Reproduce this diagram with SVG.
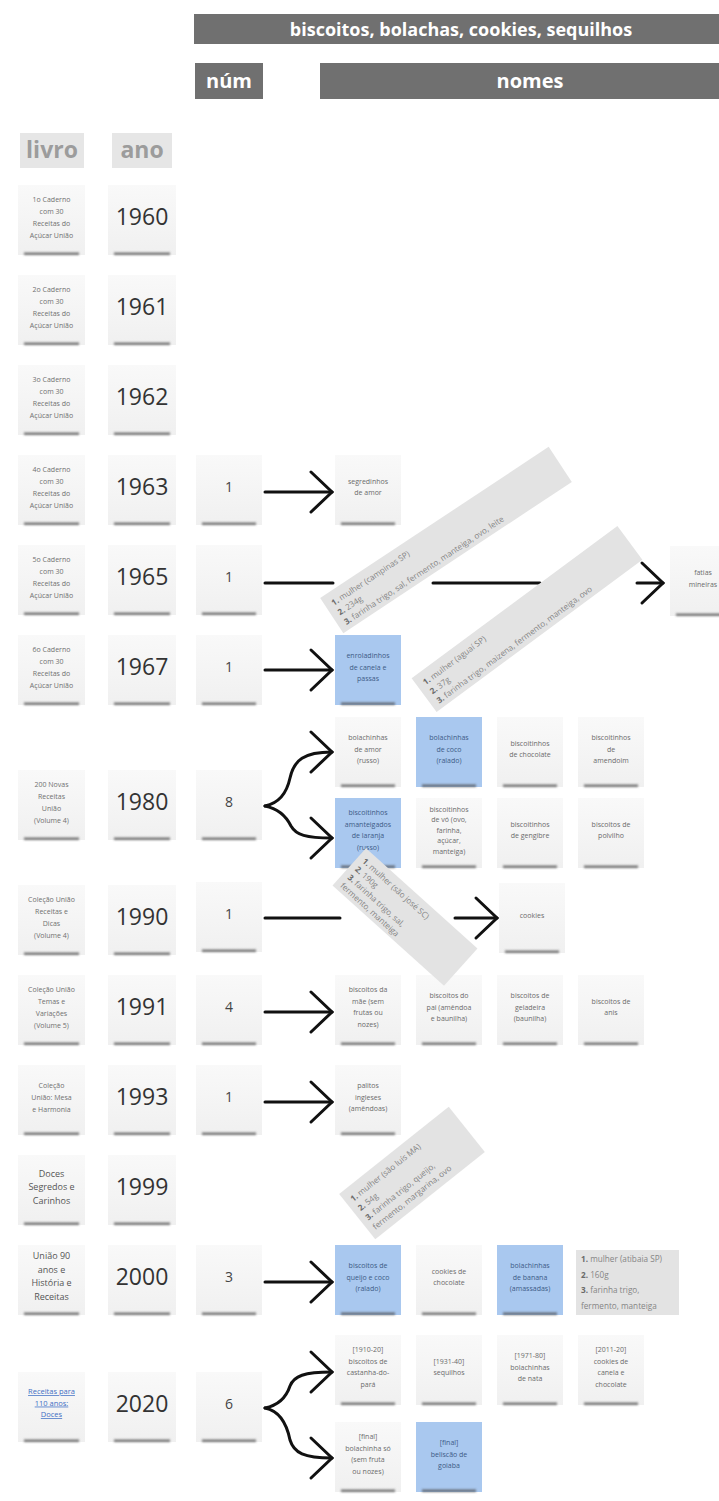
<svg xmlns="http://www.w3.org/2000/svg" width="719" height="1501" viewBox="0 0 719 1501">
<defs>
<linearGradient id="pg" x1="0" y1="0" x2="0" y2="1"><stop offset="0" stop-color="#f9f9f9"/><stop offset="1" stop-color="#f0f0f0"/></linearGradient>
<filter id="bl" x="-20%" y="-300%" width="140%" height="700%"><feGaussianBlur stdDeviation="1.1"/></filter>
<marker id="ah" viewBox="-25 -23 28 46" refX="0" refY="0" markerWidth="28" markerHeight="46" markerUnits="userSpaceOnUse" orient="auto"><path d="M-21,-20 L0,0 L-21,20" fill="none" stroke="#111" stroke-width="3" stroke-linecap="round"/></marker>
<style>
.hd{fill:#707070}
.hdt{font-family:"Open Sans","DejaVu Sans",sans-serif;font-weight:bold;fill:#fff;text-anchor:middle}
.cap{fill:#e6e6e6}
.capt{font-family:"Open Sans","DejaVu Sans",sans-serif;font-weight:bold;font-size:23px;fill:#9c9c9c;text-anchor:middle}
.n{fill:url(#pg)}
.b{fill:#a9c8ef}
.sh{fill:#4a4a4a;filter:url(#bl);opacity:.75}
.lv{font-family:"Open Sans","DejaVu Sans",sans-serif;font-size:7px;fill:#707070;text-anchor:middle}
.lvb{font-family:"Open Sans","DejaVu Sans",sans-serif;font-size:9px;fill:#555;text-anchor:middle}
.lk{font-family:"Open Sans","DejaVu Sans",sans-serif;font-size:7.5px;fill:#3f6fc4;text-anchor:middle;text-decoration:underline}
.yr{font-family:"Open Sans","DejaVu Sans",sans-serif;font-size:23px;fill:#333;text-anchor:middle}
.nu{font-family:"Open Sans","DejaVu Sans",sans-serif;font-size:14px;fill:#444;text-anchor:middle}
.t{font-family:"Open Sans","DejaVu Sans",sans-serif;font-size:7px;fill:#6b6b6b;text-anchor:middle}
.tb{font-family:"Open Sans","DejaVu Sans",sans-serif;font-size:7px;fill:#3d5b86;text-anchor:middle}
.g{fill:#e3e3e3}
.gt{font-family:"Open Sans","DejaVu Sans",sans-serif;font-size:8.2px;fill:#858585}
.gb{font-weight:bold;fill:#6a6a6a}
.c{fill:none;stroke:#111;stroke-width:3;stroke-linecap:round}
</style>
</defs>
<rect width="719" height="1501" fill="#fff"/>

<g id="header-title"><rect class="hd" x="194" y="14" width="540" height="30"/><text class="hdt" x="461" y="35.5" font-size="18">biscoitos, bolachas, cookies, sequilhos</text></g>
<g id="header-num"><rect class="hd" x="195" y="63" width="68" height="36"/><text class="hdt" x="229" y="88" font-size="20">núm</text></g>
<g id="header-nomes"><rect class="hd" x="320" y="63" width="420" height="36"/><text class="hdt" x="530" y="88" font-size="20">nomes</text></g>
<g id="header-livro"><rect class="cap" x="20" y="133" width="64" height="35"/><text class="capt" x="52" y="158">livro</text></g>
<g id="header-ano"><rect class="cap" x="112" y="133" width="60" height="35"/><text class="capt" x="142" y="158">ano</text></g>

<!-- livro notes -->
<g id="livro-1960"><rect class="n" x="18" y="185" width="67" height="70"/><rect class="sh" x="24" y="252.5" width="55" height="2.5"/><text class="lv"><tspan x="51.5" y="201.5">1o Caderno</tspan><tspan x="51.5" y="213.5">com 30</tspan><tspan x="51.5" y="225.5">Receitas do</tspan><tspan x="51.5" y="237.5">Açúcar União</tspan></text></g>
<g id="livro-1961"><rect class="n" x="18" y="275" width="67" height="70"/><rect class="sh" x="24" y="342.5" width="55" height="2.5"/><text class="lv"><tspan x="51.5" y="291.5">2o Caderno</tspan><tspan x="51.5" y="303.5">com 30</tspan><tspan x="51.5" y="315.5">Receitas do</tspan><tspan x="51.5" y="327.5">Açúcar União</tspan></text></g>
<g id="livro-1962"><rect class="n" x="18" y="365" width="67" height="70"/><rect class="sh" x="24" y="432.5" width="55" height="2.5"/><text class="lv"><tspan x="51.5" y="381.5">3o Caderno</tspan><tspan x="51.5" y="393.5">com 30</tspan><tspan x="51.5" y="405.5">Receitas do</tspan><tspan x="51.5" y="417.5">Açúcar União</tspan></text></g>
<g id="livro-1963"><rect class="n" x="18" y="455" width="67" height="70"/><rect class="sh" x="24" y="522.5" width="55" height="2.5"/><text class="lv"><tspan x="51.5" y="471.5">4o Caderno</tspan><tspan x="51.5" y="483.5">com 30</tspan><tspan x="51.5" y="495.5">Receitas do</tspan><tspan x="51.5" y="507.5">Açúcar União</tspan></text></g>
<g id="livro-1965"><rect class="n" x="18" y="545" width="67" height="70"/><rect class="sh" x="24" y="612.5" width="55" height="2.5"/><text class="lv"><tspan x="51.5" y="561.5">5o Caderno</tspan><tspan x="51.5" y="573.5">com 30</tspan><tspan x="51.5" y="585.5">Receitas do</tspan><tspan x="51.5" y="597.5">Açúcar União</tspan></text></g>
<g id="livro-1967"><rect class="n" x="18" y="635" width="67" height="70"/><rect class="sh" x="24" y="702.5" width="55" height="2.5"/><text class="lv"><tspan x="51.5" y="651.5">6o Caderno</tspan><tspan x="51.5" y="663.5">com 30</tspan><tspan x="51.5" y="675.5">Receitas do</tspan><tspan x="51.5" y="687.5">Açúcar União</tspan></text></g>
<g id="livro-1980"><rect class="n" x="18" y="770" width="67" height="70"/><rect class="sh" x="24" y="837.5" width="55" height="2.5"/><text class="lv"><tspan x="51.5" y="786.5">200 Novas</tspan><tspan x="51.5" y="798.5">Receitas</tspan><tspan x="51.5" y="810.5">União</tspan><tspan x="51.5" y="822.5">(Volume 4)</tspan></text></g>
<g id="livro-1990"><rect class="n" x="18" y="885" width="67" height="70"/><rect class="sh" x="24" y="952.5" width="55" height="2.5"/><text class="lv"><tspan x="51.5" y="901.5">Coleção União</tspan><tspan x="51.5" y="913.5">Receitas e</tspan><tspan x="51.5" y="925.5">Dicas</tspan><tspan x="51.5" y="937.5">(Volume 4)</tspan></text></g>
<g id="livro-1991"><rect class="n" x="18" y="975" width="67" height="70"/><rect class="sh" x="24" y="1042.5" width="55" height="2.5"/><text class="lv"><tspan x="51.5" y="991.5">Coleção União</tspan><tspan x="51.5" y="1003.5">Temas e</tspan><tspan x="51.5" y="1015.5">Variações</tspan><tspan x="51.5" y="1027.5">(Volume 5)</tspan></text></g>
<g id="livro-1993"><rect class="n" x="18" y="1065" width="67" height="70"/><rect class="sh" x="24" y="1132.5" width="55" height="2.5"/><text class="lv"><tspan x="51.5" y="1087.5">Coleção</tspan><tspan x="51.5" y="1099.5">União: Mesa</tspan><tspan x="51.5" y="1111.5">e Harmonia</tspan></text></g>
<g id="livro-1999"><rect class="n" x="18" y="1155" width="67" height="70"/><rect class="sh" x="24" y="1222.5" width="55" height="2.5"/><text class="lvb"><tspan x="51.5" y="1176.7">Doces</tspan><tspan x="51.5" y="1190.2">Segredos e</tspan><tspan x="51.5" y="1203.7">Carinhos</tspan></text></g>
<g id="livro-2000"><rect class="n" x="18" y="1245" width="67" height="70"/><rect class="sh" x="24" y="1312.5" width="55" height="2.5"/><text class="lvb"><tspan x="51.5" y="1259">União 90</tspan><tspan x="51.5" y="1272.5">anos e</tspan><tspan x="51.5" y="1286">História e</tspan><tspan x="51.5" y="1299.5">Receitas</tspan></text></g>
<g id="livro-2020"><rect class="n" x="18" y="1372" width="67" height="70"/><rect class="sh" x="24" y="1439.5" width="55" height="2.5"/><text class="lk"><tspan x="51.5" y="1394.1">Receitas para</tspan><tspan x="51.5" y="1405.6">110 anos:</tspan><tspan x="51.5" y="1417.1">Doces</tspan></text></g>

<!-- year notes -->
<g id="ano-1960"><rect class="n" x="108" y="185" width="68" height="70"/><rect class="sh" x="114" y="252.5" width="56" height="2.5"/><text class="yr" x="142" y="225">1960</text></g>
<g id="ano-1961"><rect class="n" x="108" y="275" width="68" height="70"/><rect class="sh" x="114" y="342.5" width="56" height="2.5"/><text class="yr" x="142" y="315">1961</text></g>
<g id="ano-1962"><rect class="n" x="108" y="365" width="68" height="70"/><rect class="sh" x="114" y="432.5" width="56" height="2.5"/><text class="yr" x="142" y="405">1962</text></g>
<g id="ano-1963"><rect class="n" x="108" y="455" width="68" height="70"/><rect class="sh" x="114" y="522.5" width="56" height="2.5"/><text class="yr" x="142" y="495">1963</text></g>
<g id="ano-1965"><rect class="n" x="108" y="545" width="68" height="70"/><rect class="sh" x="114" y="612.5" width="56" height="2.5"/><text class="yr" x="142" y="585">1965</text></g>
<g id="ano-1967"><rect class="n" x="108" y="635" width="68" height="70"/><rect class="sh" x="114" y="702.5" width="56" height="2.5"/><text class="yr" x="142" y="675">1967</text></g>
<g id="ano-1980"><rect class="n" x="108" y="770" width="68" height="70"/><rect class="sh" x="114" y="837.5" width="56" height="2.5"/><text class="yr" x="142" y="810">1980</text></g>
<g id="ano-1990"><rect class="n" x="108" y="885" width="68" height="70"/><rect class="sh" x="114" y="952.5" width="56" height="2.5"/><text class="yr" x="142" y="925">1990</text></g>
<g id="ano-1991"><rect class="n" x="108" y="975" width="68" height="70"/><rect class="sh" x="114" y="1042.5" width="56" height="2.5"/><text class="yr" x="142" y="1015">1991</text></g>
<g id="ano-1993"><rect class="n" x="108" y="1065" width="68" height="70"/><rect class="sh" x="114" y="1132.5" width="56" height="2.5"/><text class="yr" x="142" y="1105">1993</text></g>
<g id="ano-1999"><rect class="n" x="108" y="1155" width="68" height="70"/><rect class="sh" x="114" y="1222.5" width="56" height="2.5"/><text class="yr" x="142" y="1195">1999</text></g>
<g id="ano-2000"><rect class="n" x="108" y="1245" width="68" height="70"/><rect class="sh" x="114" y="1312.5" width="56" height="2.5"/><text class="yr" x="142" y="1285">2000</text></g>
<g id="ano-2020"><rect class="n" x="108" y="1372" width="68" height="70"/><rect class="sh" x="114" y="1439.5" width="56" height="2.5"/><text class="yr" x="142" y="1412">2020</text></g>

<!-- num notes -->
<g id="num-1963"><rect class="n" x="196" y="455" width="66" height="70"/><rect class="sh" x="202" y="522.5" width="54" height="2.5"/><text class="nu" x="229" y="492">1</text></g>
<g id="num-1965"><rect class="n" x="196" y="545" width="66" height="70"/><rect class="sh" x="202" y="612.5" width="54" height="2.5"/><text class="nu" x="229" y="582">1</text></g>
<g id="num-1967"><rect class="n" x="196" y="635" width="66" height="70"/><rect class="sh" x="202" y="702.5" width="54" height="2.5"/><text class="nu" x="229" y="672">1</text></g>
<g id="num-1980"><rect class="n" x="196" y="770" width="66" height="70"/><rect class="sh" x="202" y="837.5" width="54" height="2.5"/><text class="nu" x="229" y="807">8</text></g>
<g id="num-1990"><rect class="n" x="196" y="882" width="66" height="70"/><rect class="sh" x="202" y="949.5" width="54" height="2.5"/><text class="nu" x="229" y="919">1</text></g>
<g id="num-1991"><rect class="n" x="196" y="975" width="66" height="70"/><rect class="sh" x="202" y="1042.5" width="54" height="2.5"/><text class="nu" x="229" y="1012">4</text></g>
<g id="num-1993"><rect class="n" x="196" y="1065" width="66" height="70"/><rect class="sh" x="202" y="1132.5" width="54" height="2.5"/><text class="nu" x="229" y="1102">1</text></g>
<g id="num-2000"><rect class="n" x="196" y="1245" width="66" height="70"/><rect class="sh" x="202" y="1312.5" width="54" height="2.5"/><text class="nu" x="229" y="1282">3</text></g>
<g id="num-2020"><rect class="n" x="196" y="1372" width="66" height="70"/><rect class="sh" x="202" y="1439.5" width="54" height="2.5"/><text class="nu" x="229" y="1409">6</text></g>

<!-- connectors -->
<g id="connectors">
<path class="c" marker-end="url(#ah)" d="M265,492 H332"/>
<path class="c" marker-end="url(#ah)" d="M265,583 H333 M433,583 H540 M637,583 H663"/>
<path class="c" marker-end="url(#ah)" d="M265,670 H332"/>
<path class="c" marker-end="url(#ah)" d="M265,806 C280,803 287,792 290,778 C294,760 304,752 332,752"/>
<path class="c" marker-end="url(#ah)" d="M265,806 C280,809 287,818 291,826 C296,835 306,838 332,838"/>
<path class="c" marker-end="url(#ah)" d="M265,918 H340 M455,918 H497"/>
<path class="c" marker-end="url(#ah)" d="M265,1012 H332"/>
<path class="c" marker-end="url(#ah)" d="M265,1102 H332"/>
<path class="c" marker-end="url(#ah)" d="M265,1282 H332"/>
<path class="c" marker-end="url(#ah)" d="M265,1408 C280,1405 287,1395 290,1386 C294,1376 304,1372 332,1372"/>
<path class="c" marker-end="url(#ah)" d="M265,1408 C280,1411 287,1425 290,1440 C294,1453 304,1458 332,1458"/>
</g>

<!-- name notes -->
<g id="nome-1963-1"><rect class="n" x="335" y="455" width="66" height="70"/><rect class="sh" x="341" y="522.5" width="54" height="2.5"/><text class="t"><tspan x="368" y="483.75">segredinhos</tspan><tspan x="368" y="495.25">de amor</tspan></text></g>
<g id="nome-1965-1"><rect class="n" x="670" y="546" width="66" height="70"/><rect class="sh" x="676" y="613.5" width="54" height="2.5"/><text class="t"><tspan x="703" y="575">fatias</tspan><tspan x="703" y="586.5">mineiras</tspan></text></g>
<g id="nome-1967-1"><rect class="b" x="335" y="635" width="66" height="70"/><rect class="sh" x="341" y="702.5" width="54" height="2.5"/><text class="tb"><tspan x="368" y="658">enroladinhos</tspan><tspan x="368" y="669.5">de canela e</tspan><tspan x="368" y="681">passas</tspan></text></g>

<g id="nome-1980-1"><rect class="n" x="335" y="717" width="66" height="70"/><rect class="sh" x="341" y="784.5" width="54" height="2.5"/><text class="t"><tspan x="368" y="740">bolachinhas</tspan><tspan x="368" y="751.5">de amor</tspan><tspan x="368" y="763">(russo)</tspan></text></g>
<g id="nome-1980-2"><rect class="b" x="416" y="717" width="66" height="70"/><rect class="sh" x="422" y="784.5" width="54" height="2.5"/><text class="tb"><tspan x="449" y="740">bolachinhas</tspan><tspan x="449" y="751.5">de coco</tspan><tspan x="449" y="763">(ralado)</tspan></text></g>
<g id="nome-1980-3"><rect class="n" x="497" y="717" width="66" height="70"/><rect class="sh" x="503" y="784.5" width="54" height="2.5"/><text class="t"><tspan x="530" y="745.75">biscoitinhos</tspan><tspan x="530" y="757.25">de chocolate</tspan></text></g>
<g id="nome-1980-4"><rect class="n" x="578" y="717" width="66" height="70"/><rect class="sh" x="584" y="784.5" width="54" height="2.5"/><text class="t"><tspan x="611" y="740">biscoitinhos</tspan><tspan x="611" y="751.5">de</tspan><tspan x="611" y="763">amendoim</tspan></text></g>
<g id="nome-1980-5"><rect class="b" x="335" y="798" width="66" height="70"/><rect class="sh" x="341" y="865.5" width="54" height="2.5"/><text class="tb"><tspan x="368" y="815.25">biscoitinhos</tspan><tspan x="368" y="826.75">amanteigados</tspan><tspan x="368" y="838.25">de laranja</tspan><tspan x="368" y="849.75">(russo)</tspan></text></g>
<g id="nome-1980-6"><rect class="n" x="416" y="798" width="66" height="70"/><rect class="sh" x="422" y="865.5" width="54" height="2.5"/><text class="t"><tspan x="449" y="811.5">biscoitinhos</tspan><tspan x="449" y="822">de vó (ovo,</tspan><tspan x="449" y="832.5">farinha,</tspan><tspan x="449" y="843">açúcar,</tspan><tspan x="449" y="853.5">manteiga)</tspan></text></g>
<g id="nome-1980-7"><rect class="n" x="497" y="798" width="66" height="70"/><rect class="sh" x="503" y="865.5" width="54" height="2.5"/><text class="t"><tspan x="530" y="826.75">biscoitinhos</tspan><tspan x="530" y="838.25">de gengibre</tspan></text></g>
<g id="nome-1980-8"><rect class="n" x="578" y="798" width="66" height="70"/><rect class="sh" x="584" y="865.5" width="54" height="2.5"/><text class="t"><tspan x="611" y="826.75">biscoitos de</tspan><tspan x="611" y="838.25">polvilho</tspan></text></g>

<g id="nome-1990-1"><rect class="n" x="499" y="883" width="66" height="70"/><rect class="sh" x="505" y="950.5" width="54" height="2.5"/><text class="t" x="532" y="917.5">cookies</text></g>

<g id="nome-1991-1"><rect class="n" x="335" y="975" width="66" height="70"/><rect class="sh" x="341" y="1042.5" width="54" height="2.5"/><text class="t"><tspan x="368" y="992.25">biscoitos da</tspan><tspan x="368" y="1003.75">mãe (sem</tspan><tspan x="368" y="1015.25">frutas ou</tspan><tspan x="368" y="1026.75">nozes)</tspan></text></g>
<g id="nome-1991-2"><rect class="n" x="416" y="975" width="66" height="70"/><rect class="sh" x="422" y="1042.5" width="54" height="2.5"/><text class="t"><tspan x="449" y="998">biscoitos do</tspan><tspan x="449" y="1009.5">pai (amêndoa</tspan><tspan x="449" y="1021">e baunilha)</tspan></text></g>
<g id="nome-1991-3"><rect class="n" x="497" y="975" width="66" height="70"/><rect class="sh" x="503" y="1042.5" width="54" height="2.5"/><text class="t"><tspan x="530" y="998">biscoitos de</tspan><tspan x="530" y="1009.5">geladeira</tspan><tspan x="530" y="1021">(baunilha)</tspan></text></g>
<g id="nome-1991-4"><rect class="n" x="578" y="975" width="66" height="70"/><rect class="sh" x="584" y="1042.5" width="54" height="2.5"/><text class="t"><tspan x="611" y="1003.75">biscoitos de</tspan><tspan x="611" y="1015.25">anis</tspan></text></g>

<g id="nome-1993-1"><rect class="n" x="335" y="1065" width="66" height="70"/><rect class="sh" x="341" y="1132.5" width="54" height="2.5"/><text class="t"><tspan x="368" y="1088">palitos</tspan><tspan x="368" y="1099.5">ingleses</tspan><tspan x="368" y="1111">(amêndoas)</tspan></text></g>

<g id="nome-2000-1"><rect class="b" x="335" y="1245" width="66" height="70"/><rect class="sh" x="341" y="1312.5" width="54" height="2.5"/><text class="tb"><tspan x="368" y="1268">biscoitos de</tspan><tspan x="368" y="1279.5">queijo e coco</tspan><tspan x="368" y="1291">(ralado)</tspan></text></g>
<g id="nome-2000-2"><rect class="n" x="416" y="1245" width="66" height="70"/><rect class="sh" x="422" y="1312.5" width="54" height="2.5"/><text class="t"><tspan x="449" y="1273.75">cookies de</tspan><tspan x="449" y="1285.25">chocolate</tspan></text></g>
<g id="nome-2000-3"><rect class="b" x="497" y="1245" width="66" height="70"/><rect class="sh" x="503" y="1312.5" width="54" height="2.5"/><text class="tb"><tspan x="530" y="1268">bolachinhas</tspan><tspan x="530" y="1279.5">de banana</tspan><tspan x="530" y="1291">(amassadas)</tspan></text></g>
<g id="info-2000"><rect class="g" x="576" y="1250" width="103" height="65"/><text class="gt" font-size="7.8"><tspan x="581" y="1262"><tspan class="gb">1.</tspan> mulher (atibaia SP)</tspan><tspan x="581" y="1278"><tspan class="gb">2.</tspan> 160g</tspan><tspan x="581" y="1293"><tspan class="gb">3.</tspan> farinha trigo,</tspan><tspan x="581" y="1309">fermento, manteiga</tspan></text></g>

<g id="nome-2020-1"><rect class="n" x="335" y="1335" width="66" height="70"/><rect class="sh" x="341" y="1402.5" width="54" height="2.5"/><text class="t"><tspan x="368" y="1352.25">[1910-20]</tspan><tspan x="368" y="1363.75">biscoitos de</tspan><tspan x="368" y="1375.25">castanha-do-</tspan><tspan x="368" y="1386.75">pará</tspan></text></g>
<g id="nome-2020-2"><rect class="n" x="416" y="1335" width="66" height="70"/><rect class="sh" x="422" y="1402.5" width="54" height="2.5"/><text class="t"><tspan x="449" y="1363.75">[1931-40]</tspan><tspan x="449" y="1375.25">sequilhos</tspan></text></g>
<g id="nome-2020-3"><rect class="n" x="497" y="1335" width="66" height="70"/><rect class="sh" x="503" y="1402.5" width="54" height="2.5"/><text class="t"><tspan x="530" y="1358">[1971-80]</tspan><tspan x="530" y="1369.5">bolachinhas</tspan><tspan x="530" y="1381">de nata</tspan></text></g>
<g id="nome-2020-4"><rect class="n" x="578" y="1335" width="66" height="70"/><rect class="sh" x="584" y="1402.5" width="54" height="2.5"/><text class="t"><tspan x="611" y="1352.25">[2011-20]</tspan><tspan x="611" y="1363.75">cookies de</tspan><tspan x="611" y="1375.25">canela e</tspan><tspan x="611" y="1386.75">chocolate</tspan></text></g>
<g id="nome-2020-5"><rect class="n" x="335" y="1422" width="66" height="70"/><rect class="sh" x="341" y="1489.5" width="54" height="2.5"/><text class="t"><tspan x="368" y="1439.25">[final]</tspan><tspan x="368" y="1450.75">bolachinha só</tspan><tspan x="368" y="1462.25">(sem fruta</tspan><tspan x="368" y="1473.75">ou nozes)</tspan></text></g>
<g id="nome-2020-6"><rect class="b" x="416" y="1422" width="66" height="70"/><rect class="sh" x="422" y="1489.5" width="54" height="2.5"/><text class="tb"><tspan x="449" y="1445">[final]</tspan><tspan x="449" y="1456.5">beliscão de</tspan><tspan x="449" y="1468">goiaba</tspan></text></g>

<!-- rotated info notes -->
<g id="info-1965" transform="translate(446,540) rotate(-33.5)"><rect class="g" x="-137" y="-21" width="274" height="42"/><text class="gt"><tspan x="-130" y="-7"><tspan class="gb">1.</tspan> mulher (campinas SP)</tspan><tspan x="-130" y="4.5"><tspan class="gb">2.</tspan> 234g</tspan><tspan x="-130" y="16"><tspan class="gb">3.</tspan> farinha trigo, sal, fermento, manteiga, ovo, leite</tspan></text></g>
<g id="info-1967" transform="translate(527,619) rotate(-36.5)"><rect class="g" x="-128" y="-21" width="256" height="42"/><text class="gt"><tspan x="-121" y="-7"><tspan class="gb">1.</tspan> mulher (aguaí SP)</tspan><tspan x="-121" y="4.5"><tspan class="gb">2.</tspan> 37g</tspan><tspan x="-121" y="16"><tspan class="gb">3.</tspan> farinha trigo, maizena, fermento, manteiga, ovo</tspan></text></g>
<g id="info-1990" transform="translate(405,917) rotate(42)"><rect class="g" x="-75" y="-25" width="150" height="50"/><text class="gt"><tspan x="-69" y="-12"><tspan class="gb">1.</tspan> mulher (são josé SC)</tspan><tspan x="-69" y="-1"><tspan class="gb">2.</tspan> 190g</tspan><tspan x="-69" y="10"><tspan class="gb">3.</tspan> farinha trigo, sal,</tspan><tspan x="-69" y="21">fermento, manteiga</tspan></text></g>
<g id="info-1999" transform="translate(412,1173) rotate(-38.5)"><rect class="g" x="-70" y="-29" width="140" height="58"/><text class="gt"><tspan x="-64" y="-14"><tspan class="gb">1.</tspan> mulher (são luís MA)</tspan><tspan x="-64" y="-2"><tspan class="gb">2.</tspan> 54g</tspan><tspan x="-64" y="10"><tspan class="gb">3.</tspan> farinha trigo, queijo,</tspan><tspan x="-64" y="22">fermento, margarina, ovo</tspan></text></g>
</svg>
